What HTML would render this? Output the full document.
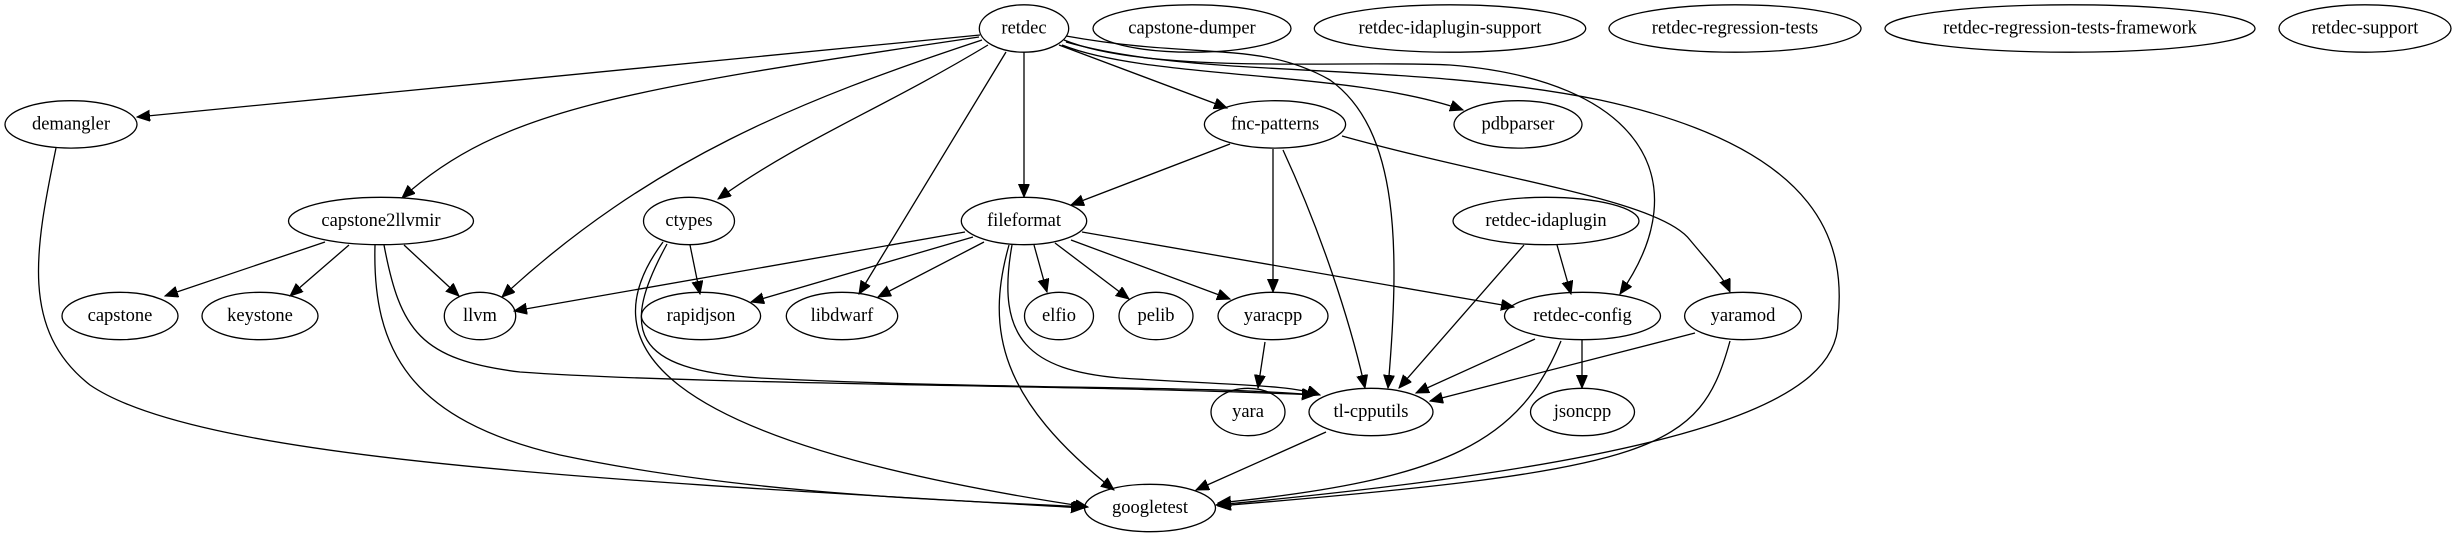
<!DOCTYPE html>
<html><head><meta charset="utf-8"><style>
html,body{margin:0;padding:0;background:#fff;}
svg{display:block;}
text{font-family:"Liberation Serif",serif;font-size:18.5px;text-anchor:middle;dominant-baseline:central;fill:#000;}
ellipse{fill:none;stroke:#000;stroke-width:1.3;}
path{fill:none;stroke:#000;stroke-width:1.3;}
</style></head><body>
<svg width="2457" height="539" viewBox="0 0 2457 539" xmlns="http://www.w3.org/2000/svg">
<defs>
<marker id="a" markerUnits="userSpaceOnUse" markerWidth="14" markerHeight="12" refX="13" refY="5.5" orient="auto">
<path d="M0,0 L13,5.5 L0,11 Z" style="fill:#000;stroke:#000;stroke-width:1"/>
</marker>
</defs>
<g marker-end="url(#a)">
<path d="M980,35 L137,117"/>
<path d="M979,37 C620,90 500,110 402,198"/>
<path d="M982,40 C800,100 650,160 502,297"/>
<path d="M988,45 C880,110 800,140 718,199"/>
<path d="M1006,52 L859,294"/>
<path d="M1024,52 L1024,197"/>
<path d="M1059,45 L1227,108"/>
<path d="M1066,36 C1200,60 1260,40 1330,80 C1400,130 1400,250 1388,388"/>
<path d="M1062,45 C1150,80 1350,70 1463,110"/>
<path d="M1064,40 C1150,75 1350,60 1450,65 C1640,80 1700,180 1620,294"/>
<path d="M1066,42 C1200,80 1400,60 1600,100 C1830,150 1845,250 1838,320 C1840,400 1700,460 1216,505"/>
<path d="M56,148 C35,250 20,330 90,385 C200,460 600,480 1084,508"/>
<path d="M325,242 L165,296"/>
<path d="M349,245 L290,296"/>
<path d="M404,245 L459,296"/>
<path d="M375,245 C372,350 410,420 560,455 C750,495 950,500 1086,507"/>
<path d="M384,245 C400,330 420,360 520,372 C700,385 1100,385 1315,395"/>
<path d="M690,245 L700,294"/>
<path d="M663,242 C590,340 640,440 1088,507"/>
<path d="M667,244 C620,330 630,370 760,378 C1000,390 1200,385 1315,395"/>
<path d="M965,232 L514,311"/>
<path d="M973,237 L751,302"/>
<path d="M984,242 L878,297"/>
<path d="M1034,245 L1047,292"/>
<path d="M1055,243 L1129,299"/>
<path d="M1071,240 L1230,299"/>
<path d="M1082,232 L1514,307"/>
<path d="M1009,245 C985,330 1000,400 1114,490"/>
<path d="M1012,245 C995,340 1030,370 1120,378 C1250,386 1290,385 1320,395"/>
<path d="M1230,144 L1071,205"/>
<path d="M1273,149 L1273,292"/>
<path d="M1283,150 C1320,230 1350,320 1365,388"/>
<path d="M1342,136 C1500,180 1660,200 1690,240 C1715,270 1725,280 1730,292"/>
<path d="M1557,245 L1571,294"/>
<path d="M1524,245 L1399,388"/>
<path d="M1265,342 L1258,388"/>
<path d="M1535,339 L1416,393"/>
<path d="M1582,340 L1582,388"/>
<path d="M1561,341 C1520,440 1450,480 1218,503"/>
<path d="M1695,333 L1430,401"/>
<path d="M1730,341 C1700,450 1660,470 1218,506"/>
<path d="M1326,432 L1196,490"/>
</g>
<g>
<ellipse cx="1024" cy="28.5" rx="44.7" ry="23.7"/><text x="1024" y="28.5">retdec</text>
<ellipse cx="1192" cy="28.5" rx="99" ry="23.7"/><text x="1192" y="28.5">capstone-dumper</text>
<ellipse cx="1450" cy="28.5" rx="135.7" ry="23.7"/><text x="1450" y="28.5">retdec-idaplugin-support</text>
<ellipse cx="1735" cy="28.5" rx="126" ry="23.7"/><text x="1735" y="28.5">retdec-regression-tests</text>
<ellipse cx="2070" cy="28.5" rx="185" ry="23.7"/><text x="2070" y="28.5">retdec-regression-tests-framework</text>
<ellipse cx="2365" cy="28.5" rx="86" ry="23.7"/><text x="2365" y="28.5">retdec-support</text>
<ellipse cx="71" cy="124.4" rx="66" ry="23.7"/><text x="71" y="124.4">demangler</text>
<ellipse cx="1275" cy="124.4" rx="70.6" ry="23.7"/><text x="1275" y="124.4">fnc-patterns</text>
<ellipse cx="1518" cy="124.4" rx="64" ry="23.7"/><text x="1518" y="124.4">pdbparser</text>
<ellipse cx="381" cy="221" rx="92.5" ry="23.7"/><text x="381" y="221">capstone2llvmir</text>
<ellipse cx="689" cy="221" rx="45.5" ry="23.7"/><text x="689" y="221">ctypes</text>
<ellipse cx="1024" cy="221" rx="62.7" ry="23.7"/><text x="1024" y="221">fileformat</text>
<ellipse cx="1546" cy="221" rx="93" ry="23.7"/><text x="1546" y="221">retdec-idaplugin</text>
<ellipse cx="120" cy="316" rx="58" ry="23.7"/><text x="120" y="316">capstone</text>
<ellipse cx="260" cy="316" rx="58" ry="23.7"/><text x="260" y="316">keystone</text>
<ellipse cx="480" cy="316" rx="35.7" ry="23.7"/><text x="480" y="316">llvm</text>
<ellipse cx="701" cy="316" rx="59.6" ry="23.7"/><text x="701" y="316">rapidjson</text>
<ellipse cx="842" cy="316" rx="55.7" ry="23.7"/><text x="842" y="316">libdwarf</text>
<ellipse cx="1059" cy="316" rx="34.5" ry="23.7"/><text x="1059" y="316">elfio</text>
<ellipse cx="1156" cy="316" rx="37" ry="23.7"/><text x="1156" y="316">pelib</text>
<ellipse cx="1273" cy="316" rx="55" ry="23.7"/><text x="1273" y="316">yaracpp</text>
<ellipse cx="1582.5" cy="316" rx="78" ry="23.7"/><text x="1582.5" y="316">retdec-config</text>
<ellipse cx="1743" cy="316" rx="58.4" ry="23.7"/><text x="1743" y="316">yaramod</text>
<ellipse cx="1248" cy="412" rx="37" ry="23.7"/><text x="1248" y="412">yara</text>
<ellipse cx="1371" cy="412" rx="62" ry="23.7"/><text x="1371" y="412">tl-cpputils</text>
<ellipse cx="1582.5" cy="412" rx="52" ry="23.7"/><text x="1582.5" y="412">jsoncpp</text>
<ellipse cx="1150" cy="508" rx="65.5" ry="23.7"/><text x="1150" y="508">googletest</text>
</g>
</svg>
</body></html>
